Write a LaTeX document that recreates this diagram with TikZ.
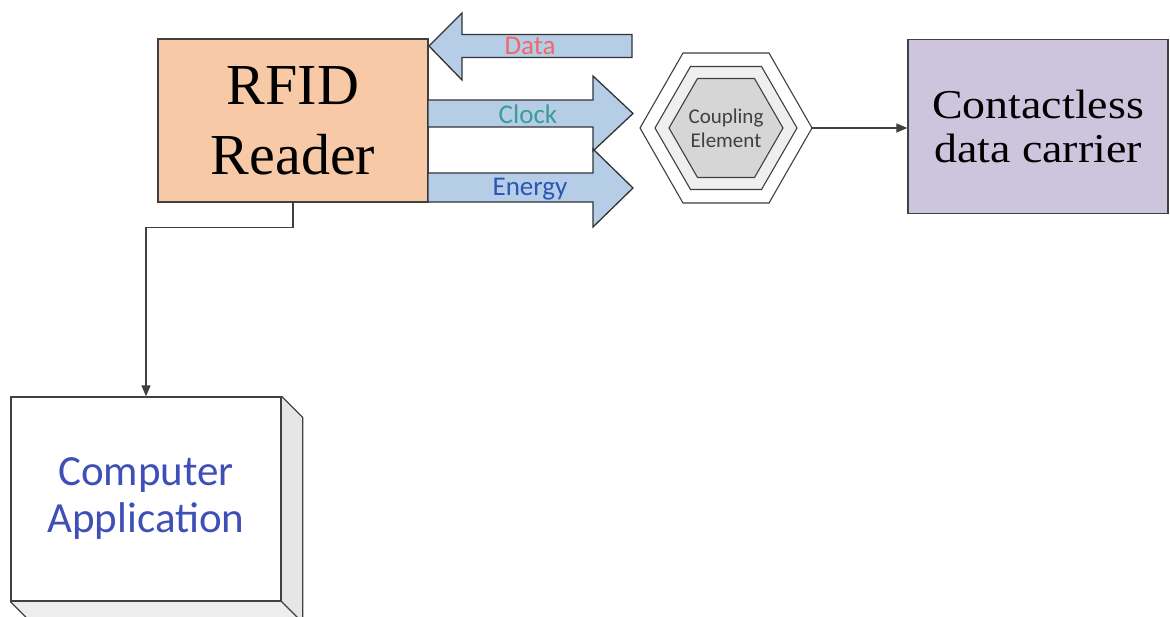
\documentclass[tikz,border=0pt]{standalone}
\usepackage{fontspec}
\setmainfont{Liberation Serif}
\newfontfamily\calfont{Carlito}
\newfontfamily\carrierfont[FakeStretch=1.12]{Liberation Serif}
\usetikzlibrary{arrows.meta}
\definecolor{peach}{HTML}{F8C9A6}
\definecolor{lavender}{HTML}{CCC5DD}
\definecolor{arrowblue}{HTML}{B5CDE6}
\definecolor{hexfill}{HTML}{D6D6D6}
\definecolor{hexband}{HTML}{EFEFEF}
\definecolor{datared}{HTML}{EE6A6A}
\definecolor{clockteal}{HTML}{3A9E96}
\definecolor{energyblue}{HTML}{2C56B3}
\definecolor{appblue}{HTML}{3F4FB8}
\definecolor{sidegray}{HTML}{E6E6E6}
\begin{document}
\begin{tikzpicture}[x=1pt,y=-1pt,
  edge/.style={draw=black!75, line width=1.2pt},
  conn/.style={edge, -{Triangle[length=11pt,width=9pt]}},
  blockarrow/.style={draw=black!80, line width=1.3pt, fill=arrowblue, line join=miter},
  lbl/.style={font=\calfont\fontsize{27}{30}\selectfont, inner sep=0pt},
  boxstyle/.style={draw=black!75, line width=1.3pt, inner sep=0pt, align=center},
  hexline/.style={draw=black!75, line width=1.1pt}
]
\useasboundingbox[fill=white] (0,0) rectangle (1170,616);

% RFID reader
\node[boxstyle, fill=peach, minimum width=270pt, minimum height=163pt,
      font=\fontsize{58}{70}\selectfont] (rfid) at (293,120.5) {RFID\\Reader};

% block arrows
\draw[blockarrow] (429,46) -- (462,13) -- (462,34.5) -- (632,34.5) -- (632,57.5)
   -- (462,57.5) -- (462,80) -- cycle;
\draw[blockarrow] (428,100) -- (593,100) -- (593,76) -- (633,113.5) -- (593,151)
   -- (593,127) -- (428,127) -- cycle;
\draw[blockarrow] (428,173) -- (593,173) -- (593,149) -- (633,188) -- (593,227)
   -- (593,202) -- (428,202) -- cycle;
\node[lbl, text=datared] (datalbl) at (530,46) {Data};
\node[lbl, text=clockteal] (clocklbl) at (528,114) {Clock};
\node[lbl, text=energyblue] (energylbl) at (530,189) {Energy};

% coupling element
\foreach \r/\h/\f in {86/75/white, 71/61.5/hexband, 57/49.5/hexfill}{
  \filldraw[hexline, fill=\f] ({726-\r},128) -- ({726-\r/2},{128-\h}) -- ({726+\r/2},{128-\h})
     -- ({726+\r},128) -- ({726+\r/2},{128+\h}) -- ({726-\r/2},{128+\h}) -- cycle;
}
\node[font=\calfont\fontsize{21}{24}\selectfont, text=black!75, align=center, inner sep=0pt]
   (coup) at (726,128) {Coupling\\Element};
\coordinate (hexR) at (812,128);

% contactless data carrier
\node[boxstyle, fill=lavender, minimum width=260pt, minimum height=174pt,
      font=\carrierfont\fontsize{41}{44}\selectfont] (carrier) at (1038,126.5)
      {Contactless\\data carrier};
\draw[conn] (hexR) -- (hexR -| carrier.west);

% computer application (3D box)
\fill[sidegray] (281,397) -- (302,418) -- (302,622) -- (281,601) -- cycle;
\fill[sidegray!70] (11,601) -- (281,601) -- (302,622) -- (32,622) -- cycle;
\node[boxstyle, fill=white, minimum width=270pt, minimum height=204pt,
      font=\calfont\fontsize{43}{47}\selectfont, text=appblue] (app) at (146,499)
      {Computer\\Application};
\draw[edge] (app.north east) -- ++(21,21) -- ++(0,204);
\draw[edge] (app.south east) -- ++(21,21);
\draw[edge] (app.south west) -- ++(21,21);

% connector reader -> application
\draw[conn] (rfid.south) -- ++(0,25) -| (app.north);
\end{tikzpicture}
\end{document}
